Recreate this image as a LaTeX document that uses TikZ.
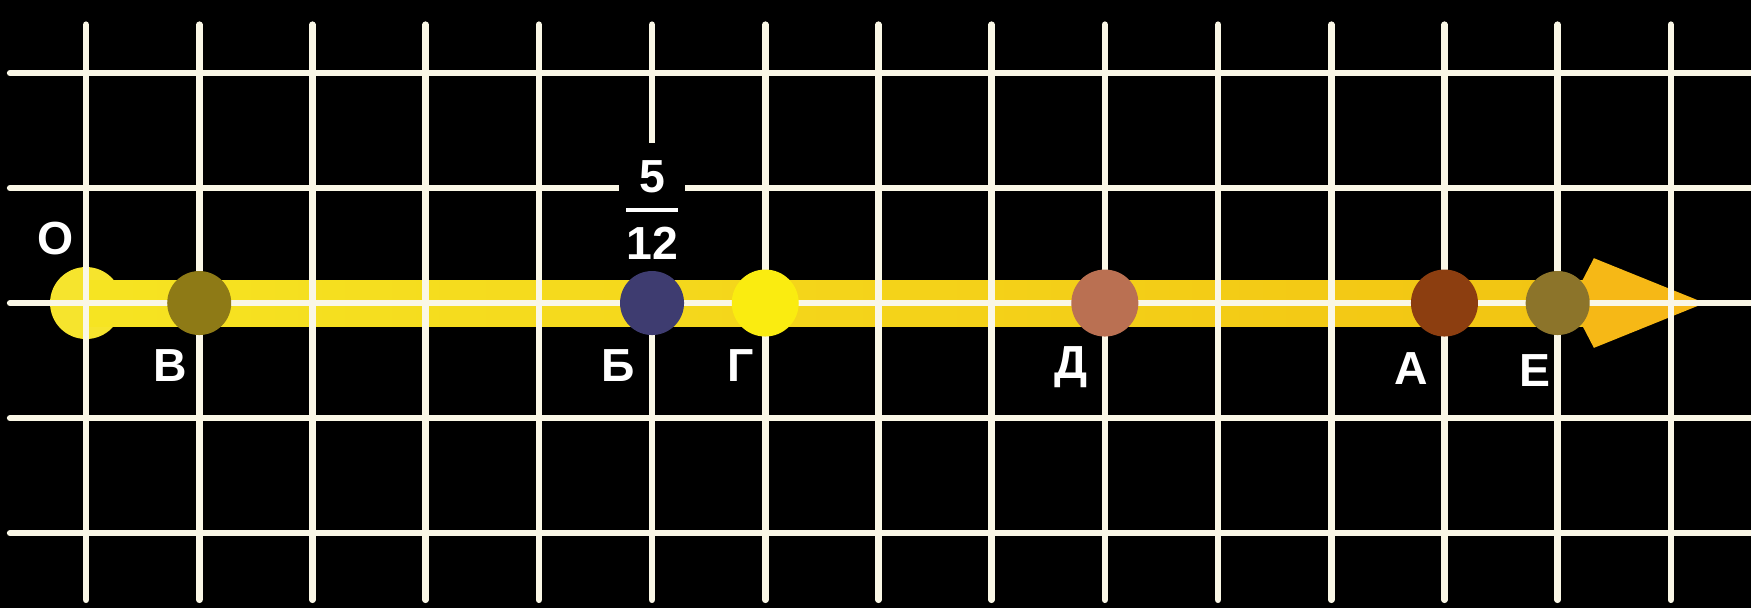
\documentclass[tikz,border=0pt]{standalone}
\usepackage{amsmath}
\usepackage{fontspec}
\setmainfont{Liberation Sans}

\definecolor{gridwhite}{RGB}{250,247,230}
\definecolor{rayleft}{RGB}{246,228,34}
\definecolor{rayright}{RGB}{242,196,18}
\definecolor{headorange}{RGB}{246,184,22}
\definecolor{discO}{RGB}{246,228,45}
\definecolor{dotV}{RGB}{142,122,22}
\definecolor{dotB}{RGB}{62,60,112}
\definecolor{dotG}{RGB}{250,236,16}
\definecolor{dotD}{RGB}{186,112,82}
\definecolor{dotA}{RGB}{140,62,16}
\definecolor{dotE}{RGB}{140,116,42}

\begin{document}
\begin{tikzpicture}[
    x=1.132cm, y=1.15cm,
    gridline/.style={draw=gridwhite, line width=1.9pt, line cap=round},
    dot/.style={circle, inner sep=0pt, minimum size=0.64cm},
    lbl/.style={text=white, anchor=base, font=\bfseries\fontsize{13.2}{16}\selectfont},
    fracbox/.style={fill=black, text=white, inner xsep=0.03cm, inner ysep=0.17cm,
      font=\bfseries\fontsize{13.2}{16}\selectfont},
]
    % Black board, also fixes the size
    \fill[black] (-0.76,-2.652) rectangle (14.708,2.635);
    \useasboundingbox (-0.76,-2.652) rectangle (14.708,2.635);

    % Origin disc (the grid runs over it)
    \node[dot, minimum size=0.72cm, fill=discO] (O) at (0,0) {};

    % Yellow ray and its head
    \coordinate (head) at (13.3,0);
    \coordinate (tip) at (14.3,0);
    \shade[left color=rayleft, right color=rayright]
      ([yshift=-0.23cm]O.center) rectangle ([yshift=0.23cm]head);
    \fill[headorange] (13.22,0.2) -- (13.32,0.39) -- (tip) -- (13.32,-0.39) -- (13.22,-0.2) -- cycle;

    % Square grid
    \foreach \i in {0,...,14}
      \draw[gridline] (\i,-2.58) -- (\i,2.42);
    \foreach \j in {-2,...,2}
      \draw[gridline] (-0.67,\j) -- (14.75,\j);

    % Fraction over point B
    \node[fracbox] (frac) at (5,0.81) {$\genfrac{}{}{1.4pt}{0}{\text{5}}{\text{12}}$};

    % Points on the ray
    \node[dot, fill=dotV] (V) at (1,0) {};
    \node[dot, fill=dotB] (B) at (5,0) {};
    \node[dot, fill=dotG, minimum size=0.67cm] (G) at (6,0) {};
    \node[dot, fill=dotD, minimum size=0.67cm] (D) at (9,0) {};
    \node[dot, fill=dotA, minimum size=0.67cm] (A) at (12,0) {};
    \node[dot, fill=dotE] (E) at (13,0) {};

    % Letters
    \node[lbl] (lblO) at (-0.27,0.42) {О};
    \node[lbl] (lblV) at (0.74,-0.68) {В};
    \node[lbl] (lblB) at (4.70,-0.68) {Б};
    \node[lbl] (lblG) at (5.78,-0.68) {Г};
    \node[lbl] (lblD) at (8.70,-0.66) {Д};
    \node[lbl] (lblA) at (11.71,-0.71) {А};
    \node[lbl] (lblE) at (12.80,-0.73) {Е};
\end{tikzpicture}
\end{document}
